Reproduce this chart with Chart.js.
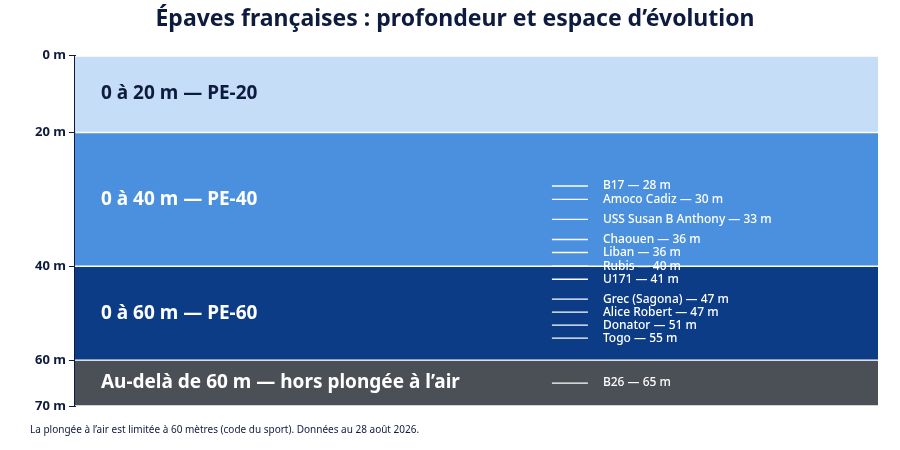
<!DOCTYPE html>
<html><head><meta charset="utf-8">
<script src="https://cdn.jsdelivr.net/npm/chart.js@4/dist/chart.umd.min.js"></script>
<style>html,body{margin:0;padding:0;background:#fff}#w{width:900px;height:450px;position:relative}</style>
</head><body><div id="w"><canvas id="c"></canvas></div>
<script>
const bandLabels=["0 à 20 m — PE-20","0 à 40 m — PE-40","0 à 60 m — PE-60","Au-delà de 60 m — hors plongée à l’air"];
const bandStart=[0,20,40,60];
const bandEnd=[20,40,60,70];
const bandColors=["#c5ddf6","#4a90de","#0c3c86","#4b4f56"];
const bandText=["#0d1b3e","#ffffff","#ffffff","#ffffff"];
const wreckNames=["B17","Amoco Cadiz","USS Susan B Anthony","Chaouen","Liban","Rubis","U171","Grec (Sagona)","Alice Robert","Donator","Togo","B26"];
const wreckDepths=[28,30,33,36,36,40,41,47,47,51,55,65];
const tickDepths=[0,20,40,60,70];
// visual (non-linear) depth scale, as in the reference
const depthBreaks=[0,20,40,60,70], visBreaks=[0,15.36,42.08,60.83,70];
function vis(d){for(let i=1;i<depthBreaks.length;i++){if(d<=depthBreaks[i]){const t=(d-depthBreaks[i-1])/(depthBreaks[i]-depthBreaks[i-1]);return visBreaks[i-1]+t*(visBreaks[i]-visBreaks[i-1]);}}return 70;}
// label dodge so stacked wrecks stay readable
const wreckVis=[];wreckDepths.forEach((d,i)=>{let v=vis(d);if(i>0&&v<wreckVis[i-1]+2.6)v=wreckVis[i-1]+2.6;wreckVis.push(v);});
const datasets=bandLabels.map((l,i)=>({type:'bar',order:2,label:l,data:[[vis(bandStart[i]),vis(bandEnd[i])]],backgroundColor:bandColors[i],borderColor:'#ffffff',borderWidth:{top:1,bottom:1,left:0,right:0},borderSkipped:false,grouped:false,barPercentage:1,categoryPercentage:1}));
datasets.push({type:'line',order:0,label:'wrecks',xAxisID:'x2',showLine:false,data:wreckVis.map(v=>({x:0.628,y:v})),pointStyle:'line',pointRadius:18,pointHoverRadius:18,borderColor:'#ffffff',backgroundColor:'#ffffff',pointBorderColor:'#ffffff',pointBorderWidth:1.3});
const labelPlugin={id:'lbl',afterDatasetsDraw(ch){const c=ch.ctx;c.save();c.textBaseline='middle';
 bandLabels.forEach((l,i)=>{const y=(ch.scales.y.getPixelForValue(vis(bandStart[i]))+ch.scales.y.getPixelForValue(vis(bandEnd[i])))/2;c.fillStyle=bandText[i];c.font='bold 19px "Noto Sans"';c.fillText(l,ch.chartArea.left+26,y);});
 const m=ch.getDatasetMeta(datasets.length-1);c.fillStyle='#ffffff';c.font='500 12px "Noto Sans"';
 m.data.forEach((p,i)=>c.fillText(wreckNames[i]+' — '+wreckDepths[i]+' m',p.x+33,p.y));
 c.fillStyle='#0d1b3e';c.font='10px "Noto Sans"';c.fillText("La plongée à l’air est limitée à 60 mètres (code du sport). Données au 28 août 2026.",30,430);
 c.restore();}};
new Chart(document.getElementById('c'),{type:'bar',data:{labels:[''],datasets},plugins:[labelPlugin],
options:{responsive:true,maintainAspectRatio:false,animation:false,layout:{padding:{left:32,right:22,bottom:44}},
plugins:{legend:{display:false},tooltip:{enabled:false},title:{display:true,text:'Épaves françaises : profondeur et espace d’évolution',color:'#0d1b3e',font:{family:'"Noto Sans"',size:23,weight:'bold'},padding:{top:6,bottom:22}}},
scales:{x:{display:false},x2:{type:'linear',display:false,min:0,max:1},
y:{type:'linear',reverse:true,min:0,max:70,afterBuildTicks(s){s.ticks=tickDepths.map(d=>({value:vis(d)}));},
ticks:{autoSkip:false,color:'#0d1b3e',font:{family:'"Noto Sans"',size:13,weight:'bold'},callback(v,i){return tickDepths[i]+' m';}},
grid:{drawOnChartArea:false,tickLength:6,color:'#0d1b3e'},border:{color:'#0d1b3e',width:2}}}}});
</script></body></html>
